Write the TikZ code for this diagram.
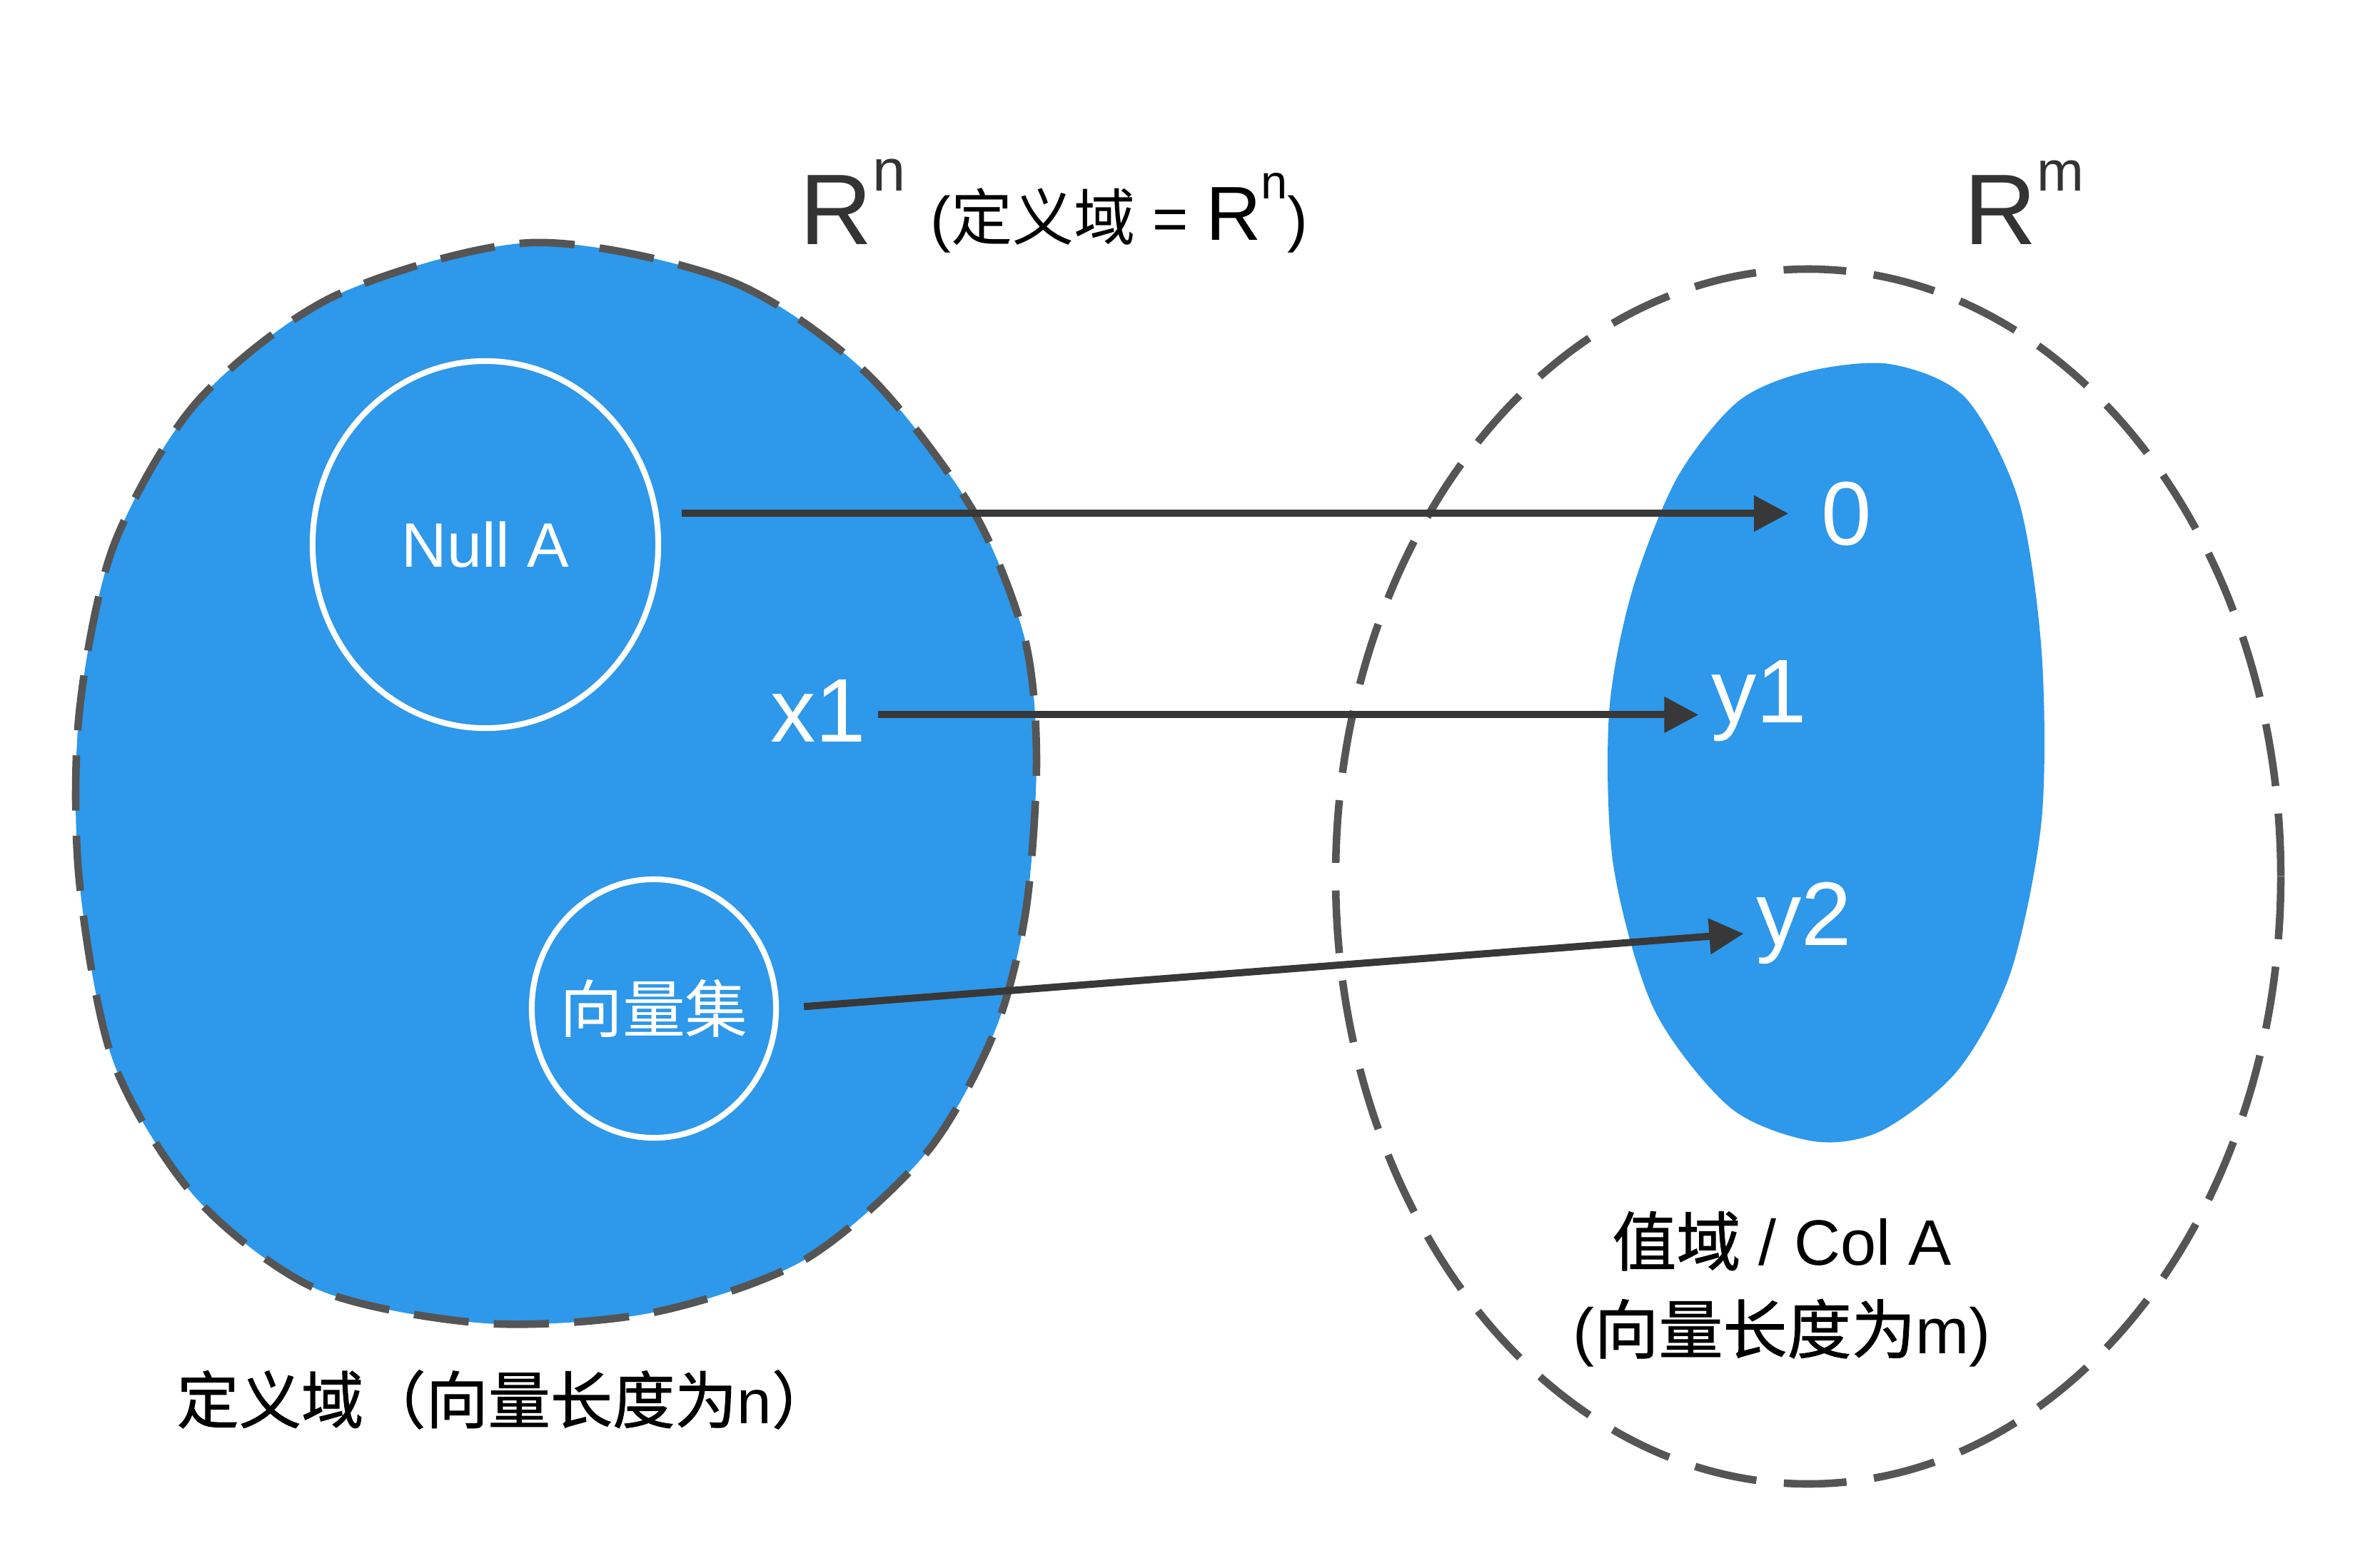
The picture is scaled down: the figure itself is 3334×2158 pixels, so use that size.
\documentclass[tikz,border=0pt]{standalone}
\usepackage{fontspec}
\setmainfont{Liberation Sans}
\newfontfamily\cjk{Noto Sans CJK SC}
\newfontfamily\cjkheavy{Noto Sans CJK SC}[FakeBold=1]
\usetikzlibrary{arrows.meta,shapes.geometric}
\definecolor{setblue}{HTML}{2E98EA}
\definecolor{setgray}{HTML}{555555}
\definecolor{mapgray}{HTML}{383838}
\definecolor{labelgray}{HTML}{333333}

\begin{document}
\begin{tikzpicture}[
        x=0.01cm, y=-0.01cm,
        set area/.style    ={fill=setblue, draw=none},
        set border/.style  ={draw=setgray, line width=3pt, dash pattern=on 22pt off 10pt},
        range border/.style={draw=setgray, line width=3pt, dash pattern=on 25pt off 11pt},
        sub set/.style     ={draw=white, line width=2.3pt, shape=ellipse, inner sep=0pt,
                             text=white, font=\fontsize{25}{30}\selectfont},
        map arrow/.style   ={draw=mapgray, line width=2.85pt,
                             -{Triangle[length=13.7pt, width=13.7pt]}},
        vec label/.style   ={text=white, inner sep=4.8pt, anchor=base,
                             font=\fontsize{36}{40}\selectfont},
        space label/.style ={text=labelgray, inner sep=0pt, anchor=base west},
        note label/.style  ={inner sep=0pt, font=\fontsize{25.6}{35}\selectfont}
    ]
    \useasboundingbox (0,0) rectangle (3334,2158);
    %% --- domain R^n: the dashed blob with its two subsets ---------------
    \fill[set area] plot[smooth cycle] coordinates {
            (744,340) (1021,393) (1212,521) (1361,712) (1435,893) (1452,1063)
            (1437,1276) (1393,1446) (1297,1616) (1127,1765) (914,1839) (680,1854)
            (446,1807) (276,1680) (159,1488) (111,1233) (111,999) (159,765)
            (276,563) (468,415)};
    \draw[set border] plot[smooth cycle] coordinates {
            (744,340) (1021,393) (1212,521) (1361,712) (1435,893) (1452,1063)
            (1437,1276) (1393,1446) (1297,1616) (1127,1765) (914,1839) (680,1854)
            (446,1807) (276,1680) (159,1488) (111,1233) (111,999) (159,765)
            (276,563) (468,415)};
    \node[sub set, minimum width=4.84cm, minimum height=5.14cm] (nullA) at (680,763)
        {\makebox[0pt]{Null A}};
    \node[sub set, minimum width=3.42cm, minimum height=3.62cm] (vecset) at (916,1413)
        {\makebox[0pt]{\cjk 向量集}};
    %% --- codomain R^m: dashed ellipse, column space inside --------------
    \fill[set area] plot[smooth cycle] coordinates {
            (2530,521) (2647,510) (2753,557) (2828,702) (2860,914) (2860,1148)
            (2817,1361) (2743,1499) (2636,1584) (2541,1599) (2424,1552) (2317,1414)
            (2260,1212) (2254,999) (2286,829) (2349,670) (2434,563)};
    \draw[range border] (2533,1228) ellipse [x radius=662, y radius=851];
    %% --- vectors and their images ---------------------------------------
    \node[vec label] (x1)   at (1146,1039) {x1};
    \node[vec label] (zero) at (2587,763)  {0};
    \node[vec label] (y1)   at (2464,1012) {y1};
    \node[vec label] (y2)   at (2527,1324) {y2};
    \draw[map arrow, shorten <=8.2pt] (nullA.east |- zero.west) -- ([xshift=-8.2pt]zero.west);
    \draw[map arrow] ([yshift=-1.7pt]x1.east) -- ([yshift=-1.7pt]x1.east -| y1.west);
    \draw[map arrow, shorten <=10pt] (vecset.east) -- ([yshift=-4.3pt]y2.west);
    %% --- space names and captions ---------------------------------------
    \node[space label] (rn) at (1120,343) {\fontsize{40}{44}\selectfont
            R\raisebox{21.6pt}{\fontsize{23.6}{26}\selectfont n}};
    \node[space label, text=black] (rndef) at (1303,337) {\fontsize{24.5}{28}\selectfont
            ({\cjk 定义域} = {\fontsize{30.5}{34}\selectfont R}\raisebox{16.5pt}{\fontsize{19}{22}\selectfont n})};
    \node[space label] (rm) at (2751,343) {\fontsize{40}{44}\selectfont
            R\raisebox{21.6pt}{\fontsize{22.5}{26}\selectfont m}};
    \node[note label, anchor=base west, font=\fontsize{24.8}{35}\selectfont] (domain) at (247,1994)
        {{\cjkheavy 定义域（向量长度为}n{\cjkheavy ）}};
    \node[note label, align=center] (range) at (2496,1806)
        {{\cjkheavy 值域} / Col A\\
         ({\cjkheavy 向量长度为}m)};
\end{tikzpicture}
\end{document}
